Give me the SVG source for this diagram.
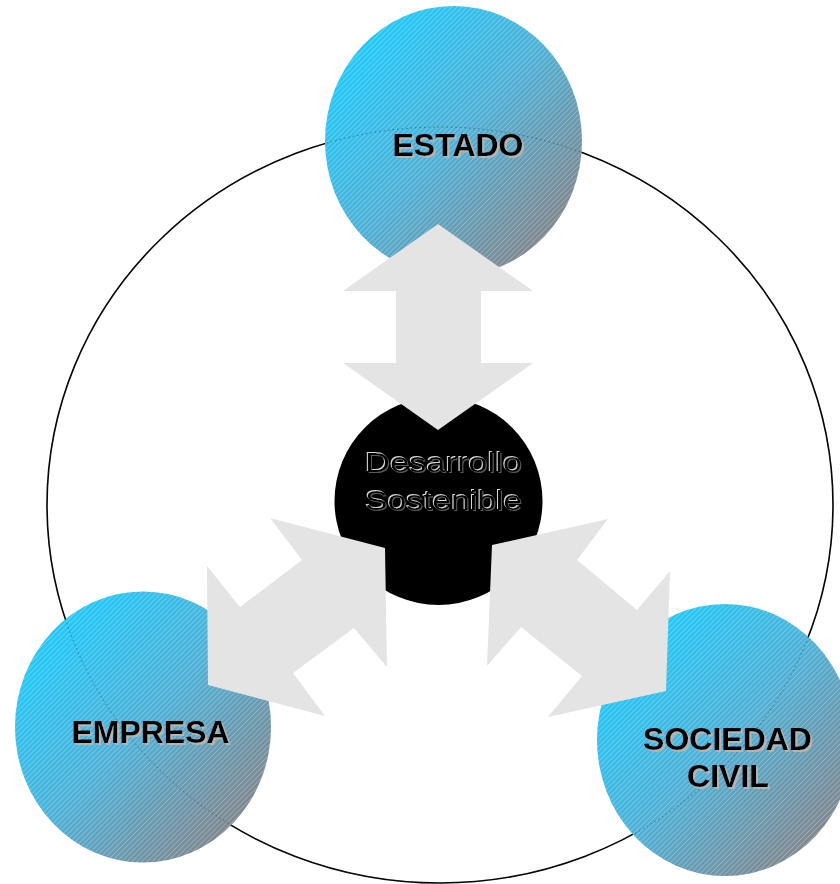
<svg xmlns="http://www.w3.org/2000/svg" width="840" height="884" viewBox="0 0 840 884">
<defs>
<linearGradient id="ballGrad" x1="0.15" y1="0.15" x2="0.85" y2="0.85">
<stop offset="0" stop-color="#22C8F8"/>
<stop offset="0.5" stop-color="#4FB0D6"/>
<stop offset="1" stop-color="#7E8890"/>
</linearGradient>
<pattern id="hatch" patternUnits="userSpaceOnUse" width="3.6" height="3.6" patternTransform="rotate(45)">
<line x1="0.5" y1="0" x2="0.5" y2="3.6" stroke="#ffffff" stroke-width="0.7" stroke-opacity="0.35"/>
</pattern>
<filter id="shadow" x="-10%" y="-20%" width="120%" height="150%">
<feFlood flood-color="#b4b4b4"/>
<feComposite in2="SourceAlpha" operator="in"/>
<feOffset dx="2" dy="2" result="sh"/>
<feMerge><feMergeNode in="sh"/><feMergeNode in="SourceGraphic"/></feMerge>
</filter>
<filter id="emboss" x="-10%" y="-20%" width="120%" height="150%">
<feFlood flood-color="#d8d8d8"/>
<feComposite in2="SourceAlpha" operator="in"/>
<feOffset dx="-1" dy="-1" result="hi"/>
<feFlood flood-color="#5a5a5a"/>
<feComposite in2="SourceAlpha" operator="in"/>
<feOffset dx="1" dy="1" result="lo"/>
<feMerge><feMergeNode in="hi"/><feMergeNode in="lo"/><feMergeNode in="SourceGraphic"/></feMerge>
</filter>
<style>
.ring{fill:none;stroke:#000;stroke-width:1.6}
.ringDot{fill:none;stroke:#1a3a4a;stroke-width:1;stroke-dasharray:1.5 3;stroke-opacity:0.55}
.ball{fill:url(#ballGrad)}
.hatch{fill:url(#hatch)}
.lbl{font-family:"Liberation Sans",Arial,sans-serif;font-weight:bold;font-size:32px;text-anchor:middle;fill:#000;filter:url(#shadow)}
.ctr{font-family:"Liberation Sans",Arial,sans-serif;font-size:27px;text-anchor:middle;fill:#000;filter:url(#emboss)}
.arrow{fill:#E4E4E4}
</style>
</defs>
<rect width="840" height="884" fill="#ffffff"/>
<ellipse class="ring" cx="440" cy="505" rx="393" ry="378"/>

<g id="estado">
<ellipse class="ball" cx="453.5" cy="141" rx="128.5" ry="135"/>
<ellipse class="hatch" cx="453.5" cy="141" rx="128.5" ry="135"/>
</g>
<g id="empresa">
<ellipse class="ball" cx="143" cy="727" rx="128" ry="135.5"/>
<ellipse class="hatch" cx="143" cy="727" rx="128" ry="135.5"/>
</g>
<g id="sociedad-civil">
<ellipse class="ball" cx="725" cy="740" rx="128" ry="136"/>
<ellipse class="hatch" cx="725" cy="740" rx="128" ry="136"/>
</g>
<ellipse class="ringDot" cx="440" cy="505" rx="393" ry="378"/>

<g id="desarrollo-sostenible">
<circle cx="438.5" cy="501" r="104" fill="#000"/>
</g>

<g id="connectors">
<polygon class="arrow" points="438,224 533,291 481,291 481,363 533,363 438,430 343,363 396,363 396,291 343,291"/>
<polygon class="arrow" points="270,518 385,548 387,667 354,628 293,673 325,716 208,685 207,566 240,607 302,560"/>
<polygon class="arrow" points="608,519 577,560 637,610 670,571 666,691 548,717 582,676 521,627 487,666 492,545"/>
</g>

<g id="labels">
<text class="lbl" x="458" y="156">ESTADO</text>
<text class="lbl" x="150.5" y="743">EMPRESA</text>
<text class="lbl" x="727.5" y="750">SOCIEDAD</text>
<text class="lbl" x="728" y="787">CIVIL</text>
<text class="ctr" x="443.5" y="472" textLength="157" lengthAdjust="spacingAndGlyphs">Desarrollo</text>
<text class="ctr" x="443.5" y="510" textLength="157" lengthAdjust="spacingAndGlyphs">Sostenible</text>
</g>
</svg>
